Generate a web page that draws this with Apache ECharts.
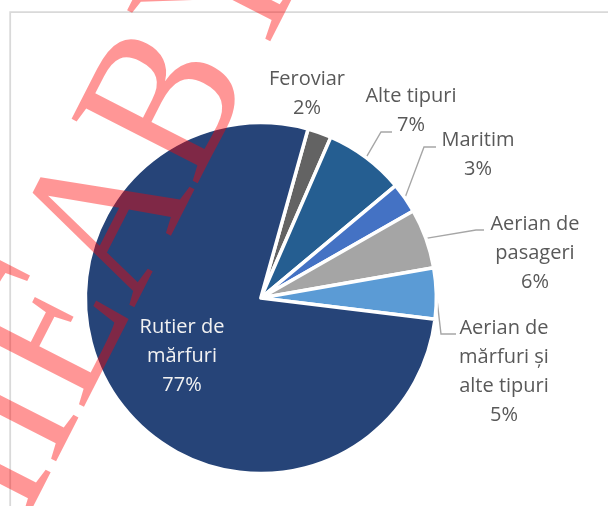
<!DOCTYPE html>
<html><head><meta charset="utf-8">
<script src="https://cdn.jsdelivr.net/npm/echarts@6/dist/echarts.min.js"></script>
<style>html,body{margin:0;padding:0;background:#fff}#c{width:608px;height:506px}</style>
</head><body><div id="c"></div>
<script>
// ---- data ----
const categories = ['Feroviar', 'Alte tipuri', 'Maritim', 'Aerian de pasageri', 'Aerian de mărfuri și alte tipuri', 'Rutier de mărfuri'];
const labelTexts = [['Feroviar'], ['Alte tipuri'], ['Maritim'], ['Aerian de', 'pasageri'], ['Aerian de', 'mărfuri și', 'alte tipuri'], ['Rutier de', 'mărfuri']];
const values = [2.2, 7.4, 2.8, 5.5, 4.7, 77.4];
// ---- styles / layout ----
const colors = ['#636363', '#255e91', '#4472c4', '#a5a5a5', '#5b9bd5', '#264478'];
const labelPos = [[307, 94], [411, 111], [478, 155], [535, 253], [504, 372], [182, 356]];
// leader-line end relative to label centre, and length of its horizontal tail
const leaderEnd = [null, [-19, 21], [-42, -8], [-51, -23], [-48, -38], null];
const leaderTail = [0, 11, 12, 8, 15, 0];

const chart = echarts.init(document.getElementById('c'), null, {renderer: 'canvas'});
const FONT = '"Open Sans", "Noto Sans", sans-serif';

const seriesData = categories.map((name, i) => {
  const inner = i === categories.length - 1;
  return {
    name: name,
    value: values[i],
    itemStyle: {color: colors[i]},
    label: {
      position: inner ? 'inside' : 'outside',
      color: inner ? '#f2f2f2' : '#595959'
    },
    labelLine: {show: leaderEnd[i] != null}
  };
});

chart.setOption({
  backgroundColor: '#ffffff',
  animation: false,
  graphic: [
    {
      type: 'rect', z: 0, silent: true,
      shape: {x: 10.2, y: 12.2, width: 900, height: 900},
      style: {fill: 'none', stroke: '#d9d9d9', lineWidth: 1.8}
    },
    {
      type: 'text', z: 100, silent: true,
      x: 102, y: 246, rotation: 63 * Math.PI / 180, scaleY: 1.15,
      style: {
        text: 'HIEABY',
        font: '188px "Liberation Serif", "DejaVu Serif", serif',
        fill: 'rgba(255,0,0,0.41)',
        textAlign: 'center', textVerticalAlign: 'middle'
      }
    }
  ],
  series: [{
    type: 'pie',
    center: ['42.9%', '58.9%'],
    radius: 175.5,
    startAngle: 74.4,
    clockwise: true,
    avoidLabelOverlap: false,
    itemStyle: {borderColor: '#ffffff', borderWidth: 3.5},
    label: {
      show: true,
      fontFamily: FONT,
      fontSize: 20,
      lineHeight: 29,
      align: 'center',
      formatter: (p) => labelTexts[p.dataIndex].join('\n') + '\n' + Math.round(p.percent) + '%'
    },
    labelLine: {
      show: true,
      length: 12, length2: 8,
      lineStyle: {color: '#a6a6a6', width: 1.4}
    },
    labelLayout: (p) => {
      const i = p.dataIndex;
      const cx = labelPos[i][0], cy = labelPos[i][1];
      const out = {x: cx, y: cy, align: 'center', verticalAlign: 'middle'};
      if (leaderEnd[i] && p.labelLinePoints) {
        const ex = cx + leaderEnd[i][0], ey = cy + leaderEnd[i][1];
        out.labelLinePoints = [p.labelLinePoints[0].slice(), [ex - leaderTail[i], ey], [ex, ey]];
      }
      return out;
    },
    emphasis: {disabled: true},
    data: seriesData
  }]
});
</script>
</body></html>
